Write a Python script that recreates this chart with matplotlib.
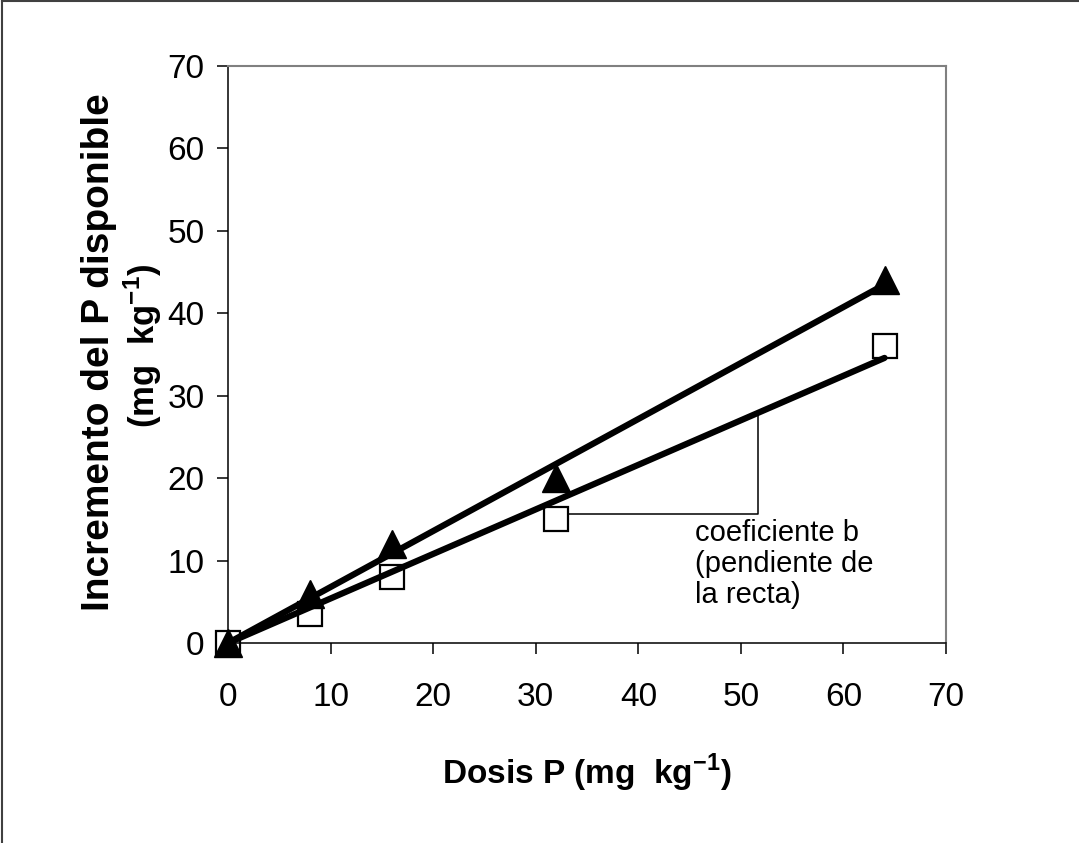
import numpy as np
import matplotlib as mpl
mpl.use('Agg')
import matplotlib.pyplot as plt
from matplotlib.lines import Line2D

plt.rcParams['font.family'] = ['Liberation Sans', 'DejaVu Sans']
plt.rcParams['mathtext.fontset'] = 'custom'
plt.rcParams['mathtext.rm'] = 'Liberation Sans'
plt.rcParams['mathtext.bf'] = 'Liberation Sans:bold'

# Data
dosis = np.array([0, 8, 16, 32, 64])
incr_triangulo = np.array([0, 6, 12, 20, 44])
incr_cuadrado = np.array([0, 3.5, 8, 15, 36])

xticks = [0, 10, 20, 30, 40, 50, 60, 70]
yticks = [0, 10, 20, 30, 40, 50, 60, 70]

# annotation bracket (data units)
brk_y = 15.6
brk_x0 = 33.1
brk_x1 = 51.7

fig = plt.figure(figsize=(10.79, 8.43), dpi=100)
ax = fig.add_axes([0.2113, 0.2372, 0.6655, 0.6845])

# regression lines through the origin
for yy in [incr_triangulo, incr_cuadrado]:
    b = np.sum(dosis * yy) / np.sum(dosis ** 2.)
    xx = np.array([dosis[0], dosis[-1]])
    ax.plot(xx, b * xx, color='black', lw=4.5, solid_capstyle='round', zorder=4,
            clip_on=False)

ax.plot(dosis, incr_cuadrado, ls='none', marker='s', ms=17, mfc='white', mec='black',
        mew=1.6, zorder=2, clip_on=False)
ax.plot(dosis, incr_triangulo, ls='none', marker='^', ms=20, color='black', zorder=3,
        clip_on=False)

# bracket showing the slope
b_sq = np.sum(dosis * incr_cuadrado) / np.sum(dosis ** 2.)
ax.plot([brk_x0, brk_x1, brk_x1], [brk_y, brk_y, b_sq * brk_x1], color='black', lw=1.1, zorder=1)
ax.text(45.5, 15.1, 'coeficiente b\n(pendiente de\nla recta)', ha='left', va='top',
        size=21, linespacing=1.15)

ax.set_xlim(0, 70)
ax.set_ylim(0, 70)
ax.set_xticks(xticks)
ax.set_yticks(yticks)
ax.tick_params(labelsize=24, length=8, width=1.1, direction='out')
ax.tick_params(axis='x', pad=20)
ax.tick_params(axis='y', pad=9)

for s in ['left', 'bottom']:
    ax.spines[s].set_linewidth(1.1)
    ax.spines[s].set_color('black')
for s in ['top', 'right']:
    ax.spines[s].set_linewidth(1.5)
    ax.spines[s].set_color('#808080')

ax.set_xlabel(r'Dosis P (mg  kg$^{\mathbf{-1}}$)', size=24, weight='bold', labelpad=28)
fig.text(0.092, 0.582, 'Incremento del P disponible', rotation=90, ha='center', va='center',
         size=28, weight='bold')
fig.text(0.132, 0.59, r'(mg  kg$^{\mathbf{-1}}$)', rotation=90, ha='center', va='center',
         size=25, weight='bold')

# outer frame (left and top edges only)
fig.add_artist(Line2D([0.0015, 0.0015], [0, 0.999], color='#404040', lw=1.5,
                      transform=fig.transFigure))
fig.add_artist(Line2D([0.0015, 1], [0.999, 0.999], color='#404040', lw=1.5,
                      transform=fig.transFigure))

fig.savefig('out.png', dpi=100)
